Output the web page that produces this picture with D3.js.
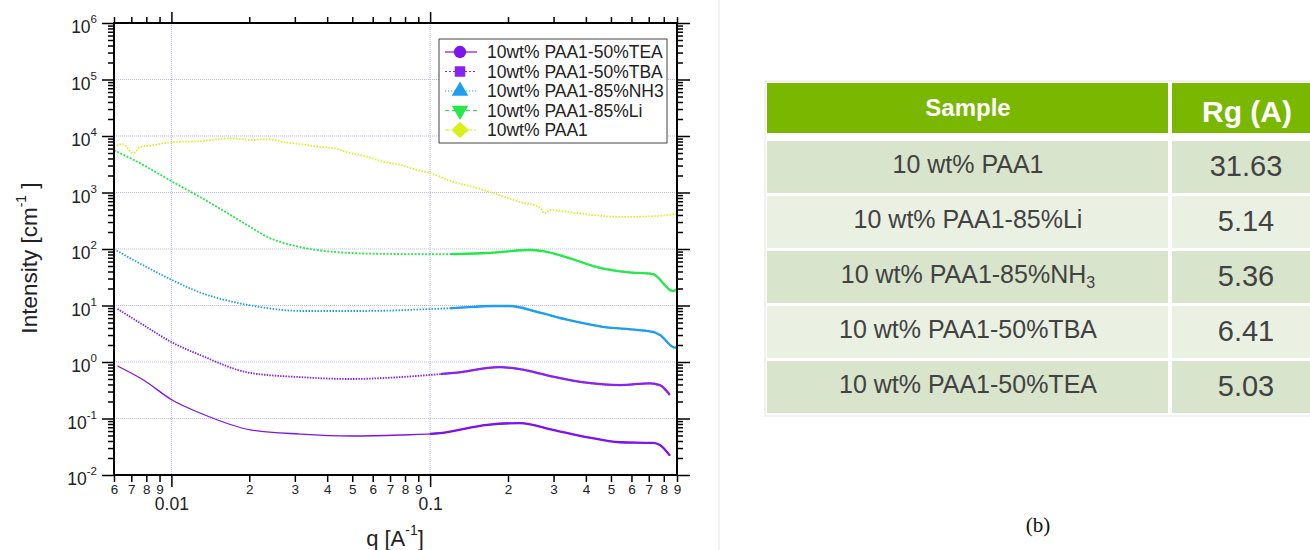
<!DOCTYPE html>
<html>
<head>
<meta charset="utf-8">
<script src="https://d3js.org/d3.v7.min.js"></script>
<style>
  body { margin: 0; background: #fff; }
  svg text { font-family: "Liberation Sans", Arial, sans-serif; }
</style>
</head>
<body>
<svg id="chart" width="1310" height="550"></svg>
<script>
// ---- data ----
var qTEA = [0.00619, 0.0078, 0.0101, 0.0129, 0.0202, 0.0315, 0.0491, 0.0765, 0.1092, 0.166, 0.222, 0.298, 0.402, 0.541, 0.726, 0.773, 0.845]
var iTEA = [0.85, 0.48, 0.21, 0.125, 0.063, 0.053, 0.049, 0.051, 0.055, 0.077, 0.083, 0.063, 0.047, 0.038, 0.037, 0.034, 0.022]

var qTBA = [0.00619, 0.0078, 0.0101, 0.0129, 0.0202, 0.0315, 0.0491, 0.0765, 0.1092, 0.1233, 0.186, 0.222, 0.298, 0.402, 0.541, 0.707, 0.773, 0.845]
var iTBA = [8.7, 4.5, 2.2, 1.33, 0.64, 0.54, 0.50, 0.54, 0.61, 0.64, 0.81, 0.75, 0.55, 0.43, 0.39, 0.42, 0.39, 0.26]

var qNH3 = [0.006, 0.00713, 0.0101, 0.0129, 0.0174, 0.0235, 0.0315, 0.057, 0.1027, 0.1233, 0.175, 0.204, 0.259, 0.345, 0.465, 0.630, 0.726, 0.773, 0.884, 0.9]
var iNH3 = [100, 64, 28, 17, 11.5, 9.0, 8.0, 8.0, 8.7, 9.0, 9.8, 9.8, 7.7, 5.5, 4.2, 3.7, 3.4, 3.0, 1.8, 1.85]

var qLi = [0.006, 0.00713, 0.0101, 0.0129, 0.0174, 0.0202, 0.0235, 0.0271, 0.0315, 0.0422, 0.0658, 0.1027, 0.166, 0.243, 0.273, 0.345, 0.441, 0.576, 0.726, 0.868, 0.908]
var iLi = [5600, 3800, 1550, 830, 370, 245, 163, 128, 108, 89, 82, 81, 85, 96, 92, 69, 48, 39, 36, 18, 20]

var qPAA = [0.006, 0.00647, 0.00713, 0.00759, 0.00852, 0.0101, 0.0129, 0.0169, 0.0207, 0.0235, 0.0271, 0.0315, 0.0376, 0.0422, 0.0491, 0.057, 0.0658, 0.0765, 0.0891, 0.1, 0.1233, 0.152, 0.175, 0.2, 0.222, 0.265, 0.276, 0.291, 0.345, 0.425, 0.541, 0.726, 0.9]
var iPAA = [6400, 7200, 5000, 6400, 6900, 7800, 8100, 9100, 8500, 8800, 7800, 7200, 6400, 6100, 5000, 4300, 3500, 3100, 2500, 2200, 1540, 1200, 980, 800, 680, 550, 430, 490, 450, 400, 370, 380, 415]

var seriesNames = ["10wt% PAA1-50%TEA", "10wt% PAA1-50%TBA", "10wt% PAA1-85%NH3", "10wt% PAA1-85%Li", "10wt% PAA1"]

var xMinorTicks = [0.006, 0.007, 0.008, 0.009, 0.02, 0.03, 0.04, 0.05, 0.06, 0.07, 0.08, 0.09, 0.2, 0.3, 0.4, 0.5, 0.6, 0.7, 0.8, 0.9]
var xMajorTicks = [0.01, 0.1]
var yExponents = [-2, -1, 0, 1, 2, 3, 4, 5, 6]

var tableSamples = ["10 wt% PAA1", "10 wt% PAA1-85%Li", "10 wt% PAA1-85%NH3", "10 wt% PAA1-50%TBA", "10 wt% PAA1-50%TEA"]
var tableRg = ["31.63", "5.14", "5.36", "6.41", "5.03"]

// ---- styles ----
var series = [
  { name: seriesNames[0], q: qTEA, v: iTEA, color: "#7d14ec", dash: null, legendDash: null, symbol: d3.symbolCircle, solidFrom: 0.1 },
  { name: seriesNames[1], q: qTBA, v: iTBA, color: "#8a22f0", dash: "1.5,1.2", legendDash: "2,2", symbol: d3.symbolSquare, solidFrom: 0.11 },
  { name: seriesNames[2], q: qNH3, v: iNH3, color: "#1e9ef0", dash: "1.5,1.5", legendDash: "1.2,1.8", symbol: d3.symbolTriangle, solidFrom: 0.12 },
  { name: seriesNames[3], q: qLi, v: iLi, color: "#27e84a", dash: "2,1.5", legendDash: "4,3", symbol: "down", solidFrom: 0.12 },
  { name: seriesNames[4], q: qPAA, v: iPAA, color: "#dcef1e", dash: "1.5,1.5", legendDash: "5,2,2,2", symbol: d3.symbolDiamond, solidFrom: null }
]

var svg = d3.select("#chart")
svg.append("rect").attr("width", 1310).attr("height", 550).attr("fill", "#fff")

var pLeft = 114, pRight = 677, pTop = 23, pBottom = 475

var x = d3.scaleLog().domain([0.006, 0.9]).range([pLeft, pRight])
var y = d3.scaleLog().domain([1e-2, 1e6]).range([pBottom, pTop])

// grid
var grid = svg.append("g").attr("stroke", "#b9b9e6").attr("stroke-width", 1).attr("stroke-dasharray", "1,1")
xMajorTicks.forEach(function(t) {
  grid.append("line").attr("x1", x(t)).attr("x2", x(t)).attr("y1", pTop).attr("y2", pBottom)
})
yExponents.slice(1, -1).forEach(function(e) {
  grid.append("line").attr("x1", pLeft).attr("x2", pRight).attr("y1", y(Math.pow(10, e))).attr("y2", y(Math.pow(10, e)))
})

// y minor ticks
var yMinor = []
yExponents.slice(0, -1).forEach(function(e) {
  for (var k = 2; k <= 9; k++) yMinor.push(k * Math.pow(10, e))
})
var yMajor = yExponents.map(function(e) { return Math.pow(10, e) })

function styleAxis(g) {
  g.select(".domain").remove()
  g.selectAll(".tick line").attr("stroke", "#000").attr("stroke-width", 1.5)
}

// bottom axis
svg.append("g").attr("transform", "translate(0," + pBottom + ")")
  .call(d3.axisBottom(x).tickValues(xMinorTicks).tickSize(7).tickPadding(2)
    .tickFormat(function(d) { return Math.round(d / Math.pow(10, Math.floor(Math.log10(d) + 1e-9))) }))
  .call(styleAxis)
  .selectAll("text").attr("font-size", 13.5).attr("fill", "#222")
svg.append("g").attr("transform", "translate(0," + pBottom + ")")
  .call(d3.axisBottom(x).tickValues(xMajorTicks).tickSize(12).tickPadding(11)
    .tickFormat(function(d) { return d === 0.01 ? "0.01" : "0.1" }))
  .call(styleAxis)
  .selectAll("text").attr("font-size", 17.5).attr("fill", "#222")

// top axis
svg.append("g").attr("transform", "translate(0," + pTop + ")")
  .call(d3.axisTop(x).tickValues(xMinorTicks).tickSize(6).tickFormat(""))
  .call(styleAxis)
svg.append("g").attr("transform", "translate(0," + pTop + ")")
  .call(d3.axisTop(x).tickValues(xMajorTicks).tickSize(11).tickFormat(""))
  .call(styleAxis)

// left axis
svg.append("g").attr("transform", "translate(" + pLeft + ",0)")
  .call(d3.axisLeft(y).tickValues(yMinor).tickSize(6).tickFormat(""))
  .call(styleAxis)
svg.append("g").attr("transform", "translate(" + pLeft + ",0)")
  .call(d3.axisLeft(y).tickValues(yMajor).tickSize(12).tickFormat(""))
  .call(styleAxis)
yExponents.forEach(function(e) {
  var t = svg.append("text").attr("x", 97).attr("y", y(Math.pow(10, e)) + 10)
    .attr("text-anchor", "end").attr("fill", "#222").attr("font-size", 17.5)
  t.append("tspan").text("10")
  t.append("tspan").attr("font-size", 11.5).attr("dy", -10).text(e)
})

// right axis
svg.append("g").attr("transform", "translate(" + pRight + ",0)")
  .call(d3.axisRight(y).tickValues(yMinor).tickSize(6).tickFormat(""))
  .call(styleAxis)
svg.append("g").attr("transform", "translate(" + pRight + ",0)")
  .call(d3.axisRight(y).tickValues(yMajor).tickSize(13).tickFormat(""))
  .call(styleAxis)

// curves
svg.append("clipPath").attr("id", "plotclip").append("rect")
  .attr("x", pLeft).attr("y", pTop).attr("width", pRight - pLeft).attr("height", pBottom - pTop)

var line = d3.line()
  .x(function(d) { return x(d[0]) })
  .y(function(d) { return y(d[1]) })
  .curve(d3.curveMonotoneX)

var curves = svg.append("g").attr("clip-path", "url(#plotclip)")
series.slice().reverse().forEach(function(s, i) {
  var pts = s.q.map(function(q, j) { return [q, s.v[j]] })
  curves.append("path").attr("d", line(pts)).attr("fill", "none")
    .attr("stroke", s.color).attr("stroke-width", s.dash ? 1.8 : 1.3)
    .attr("stroke-dasharray", s.dash)
  if (s.solidFrom) {
    var cid = "solid" + i
    svg.append("clipPath").attr("id", cid).append("rect")
      .attr("x", x(s.solidFrom)).attr("y", pTop).attr("width", pRight - x(s.solidFrom)).attr("height", pBottom - pTop)
    curves.append("path").attr("d", line(pts)).attr("fill", "none")
      .attr("clip-path", "url(#" + cid + ")")
      .attr("stroke", s.color).attr("stroke-width", 2.3)
  }
})

// frame
svg.append("rect").attr("x", pLeft).attr("y", pTop).attr("width", pRight - pLeft).attr("height", pBottom - pTop)
  .attr("fill", "none").attr("stroke", "#000").attr("stroke-width", 2)

// axis titles
var yt = svg.append("text").attr("transform", "translate(37,258) rotate(-90)")
  .attr("text-anchor", "middle").attr("font-size", 22.5).attr("fill", "#222")
yt.append("tspan").text("Intensity [cm")
yt.append("tspan").attr("font-size", 14).attr("dy", -11).text("-1")
yt.append("tspan").attr("dy", 11).text(" ]")

var xt = svg.append("text").attr("x", 395).attr("y", 546)
  .attr("text-anchor", "middle").attr("font-size", 22).attr("fill", "#222")
xt.append("tspan").text("q [A")
xt.append("tspan").attr("font-size", 14).attr("dy", -11).text("-1")
xt.append("tspan").attr("dy", 11).text("]")

// legend
var lg = svg.append("g")
lg.append("rect").attr("x", 439).attr("y", 39).attr("width", 228).attr("height", 104)
  .attr("fill", "#fff").attr("stroke", "#444").attr("stroke-width", 1)
series.forEach(function(s, i) {
  var cy = 52 + i * 19.5
  lg.append("line").attr("x1", 445).attr("x2", 477).attr("y1", cy).attr("y2", cy)
    .attr("stroke", s.color).attr("stroke-width", 1.2).attr("stroke-dasharray", s.legendDash)
  var sym = s.symbol === "down" ? d3.symbolTriangle : s.symbol
  var tr = "translate(460," + cy + ")"
  if (s.symbol === "down") tr += " rotate(180)"
  if (s.symbol === d3.symbolDiamond) tr += " scale(1.5,0.8)"
  lg.append("path").attr("d", d3.symbol().type(sym).size(s.symbol === d3.symbolSquare ? 110 : 120)())
    .attr("transform", tr).attr("fill", s.color)
  lg.append("text").attr("x", 487).attr("y", cy + 6).attr("font-size", 17.5).attr("fill", "#222").text(s.name)
})

// divider
svg.append("line").attr("x1", 719).attr("x2", 719).attr("y1", 0).attr("y2", 550)
  .attr("stroke", "#ececec").attr("stroke-width", 1.5)

// table
var tb = svg.append("g")
tb.append("rect").attr("x", 765).attr("y", 81).attr("width", 560).attr("height", 335)
  .attr("fill", "#fff").attr("stroke", "#e4e4e4")
tb.append("rect").attr("x", 767).attr("y", 83).attr("width", 401).attr("height", 50).attr("fill", "#79b700")
tb.append("rect").attr("x", 1172).attr("y", 83).attr("width", 150).attr("height", 50).attr("fill", "#79b700")
tb.append("text").attr("x", 968).attr("y", 116).attr("text-anchor", "middle")
  .attr("font-size", 24).attr("font-weight", "bold").attr("fill", "#fff").text("Sample")
tb.append("text").attr("x", 1247).attr("y", 122).attr("text-anchor", "middle")
  .attr("font-size", 30).attr("font-weight", "bold").attr("fill", "#fff").text("Rg (A)")

tableSamples.forEach(function(name, i) {
  var ty = 141 + i * 55
  var fill = i % 2 === 0 ? "#d8e4cb" : "#eaf1e3"
  tb.append("rect").attr("x", 767).attr("y", ty).attr("width", 401).attr("height", 52).attr("fill", fill)
  tb.append("rect").attr("x", 1172).attr("y", ty).attr("width", 150).attr("height", 52).attr("fill", fill)
  var t = tb.append("text").attr("x", 968).attr("y", ty + 32).attr("text-anchor", "middle")
    .attr("font-size", 25).attr("fill", "#424242")
  if (/NH3$/.test(name)) {
    t.append("tspan").text(name.slice(0, -1))
    t.append("tspan").attr("font-size", 16).attr("dy", 5).text("3")
  } else {
    t.text(name)
  }
  tb.append("text").attr("x", 1246).attr("y", ty + 35).attr("text-anchor", "middle")
    .attr("font-size", 29).attr("fill", "#424242").text(tableRg[i])
})

svg.append("text").attr("x", 1038).attr("y", 532).attr("text-anchor", "middle")
  .style("font-family", "'Liberation Serif', 'Times New Roman', serif").attr("font-size", 21)
  .attr("fill", "#111").text("(b)")
</script>
</body>
</html>
